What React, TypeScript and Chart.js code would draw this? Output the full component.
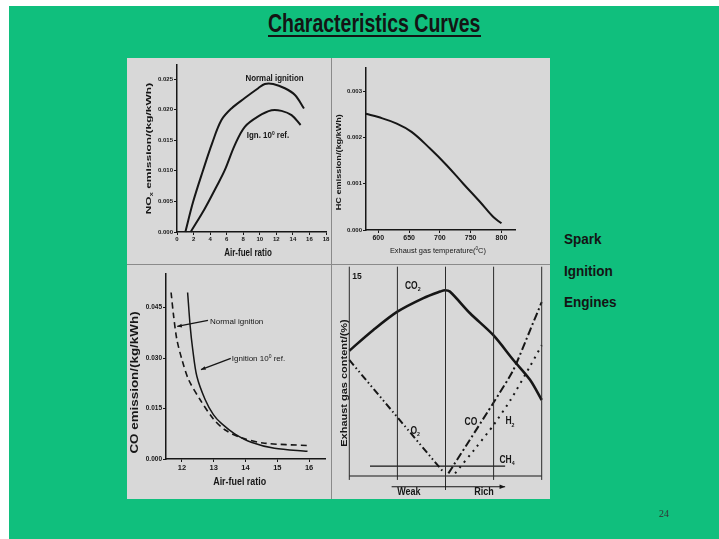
import React, { useEffect, useRef } from "react";
import { Chart, registerables } from "chart.js";

Chart.register(...registerables);

const FONT = "'Liberation Sans', Arial, Helvetica, sans-serif";
const SERIF = "'Liberation Serif', 'Times New Roman', serif";
const INK = "#161616";

// ---------------- NOx emission vs air-fuel ratio ----------------
const noxXTicks = [0, 2, 4, 6, 8, 10, 12, 14, 16, 18];
const noxYTicks = [0, 0.005, 0.01, 0.015, 0.02, 0.025];
const noxYTickLabels = ["0.000", "0.005", "0.010", "0.015", "0.020", "0.025"];
const noxNormalAFR = [1.01, 1.94, 3.15, 4.24, 5.37, 6.58, 8.19, 9.81, 10.61, 11.62, 13.03, 14.25, 15.34];
const noxNormal = [0, 0.0049, 0.0101, 0.0145, 0.0183, 0.0202, 0.0219, 0.0235, 0.0242, 0.0242, 0.0235, 0.0224, 0.0202];
const noxIgnAFR = [1.65, 3.35, 4.76, 5.77, 6.98, 8.19, 9.81, 11.42, 12.63, 13.84, 14.93];
const noxIgn = [0, 0.0038, 0.0074, 0.0101, 0.0142, 0.0172, 0.0189, 0.0199, 0.0198, 0.0191, 0.0175];

// ---------------- HC emission vs exhaust gas temperature ----------------
const hcXTicks = [600, 650, 700, 750, 800];
const hcYTicks = [0, 0.001, 0.002, 0.003];
const hcYTickLabels = ["0.000", "0.001", "0.002", "0.003"];
const hcTemp = [580, 600, 630, 654, 684, 711, 738, 765, 786, 800];
const hcEmission = [0.00251, 0.00244, 0.0023, 0.00212, 0.00176, 0.0014, 0.001, 0.00061, 0.00029, 0.000144];

// ---------------- CO emission vs air-fuel ratio ----------------
const coXTicks = [12, 13, 14, 15, 16];
const coYTicks = [0, 0.015, 0.03, 0.045];
const coYTickLabels = ["0.000", "0.015", "0.030", "0.045"];
const coNormalAFR = [11.66, 11.74, 11.84, 12.0, 12.21, 12.57, 12.99, 13.35, 13.87, 14.6, 15.95];
const coNormal = [0.0495, 0.0425, 0.0356, 0.0296, 0.0236, 0.0177, 0.0119, 0.0087, 0.0063, 0.0047, 0.004];
const coIgnAFR = [12.18, 12.26, 12.34, 12.47, 12.73, 12.99, 13.25, 13.66, 14.18, 14.91, 15.95];
const coIgn = [0.0495, 0.0395, 0.0326, 0.0246, 0.0177, 0.0132, 0.0105, 0.0075, 0.005, 0.0032, 0.0023];

// ---------------- Exhaust gas content (schematic, weak -> rich) ----------------
const mixCO2X = [0, 0.5, 1.0, 1.54, 1.89, 1.99, 2.09, 2.51, 2.99, 3.41, 3.76, 4.0];
const mixCO2 = [9.58, 11.16, 12.56, 13.6, 14.1, 14.2, 14.1, 12.44, 10.78, 8.87, 7.34, 5.81];
const mixO2X = [0, 1.95];
const mixO2 = [8.87, 0.33];
const mixCOX = [2.06, 2.99, 3.41, 3.76, 4.0];
const mixCO = [0.2, 5.56, 8.1, 11.16, 13.3];
const mixH2X = [2.2, 2.64, 3.0, 3.35, 3.76, 4.0];
const mixH2 = [0.2, 2.2, 3.9, 5.8, 8.4, 10.0];
const mixCH4X = [0.43, 3.24];
const mixCH4 = [0.76, 0.76];
const mixGridX = [0, 1, 2, 3, 4];
const mixGridBottom = [-0.3, -0.3, -1.07, -0.3, -0.3];
const mixGridTop = 16;
const mixBaseX = [0, 4];
const mixBaseY = [0, 0];
const mixArrowX = [0.88, 3.24];
const mixArrowY = -0.82;

// ---------------- text ----------------
const slideTitle = "Characteristics Curves";
const sideText = ["Spark", "Ignition", "Engines"];
const pageNumber = "24";

type Seg = [string, number?];
interface Label {
  segs: Seg[];
  x: number;
  y: number;
  size: number;
  sx?: number;
  rot?: number;
  weight?: string;
  align?: "left" | "center" | "right";
}
interface Arrow {
  x1: number;
  y1: number;
  x2: number;
  y2: number;
  head: number;
  width: number;
}

const pts = (xs: number[], ys: number[]) => xs.map((x, i) => ({ x, y: ys[i] }));

function drawRich(ctx: CanvasRenderingContext2D, l: Label, px: number, py: number) {
  ctx.save();
  ctx.translate(px, py);
  if (l.rot) ctx.rotate(l.rot);
  ctx.scale(l.sx ?? 1, 1);
  const w = l.weight ?? "bold";
  const sizeOf = (k?: number) => (k ? l.size * 0.62 : l.size);
  let total = 0;
  const widths = l.segs.map(([t, k]) => {
    ctx.font = `${w} ${sizeOf(k)}px ${FONT}`;
    const m = ctx.measureText(t).width;
    total += m;
    return m;
  });
  let cx = l.align === "left" ? 0 : l.align === "right" ? -total : -total / 2;
  ctx.fillStyle = INK;
  ctx.textBaseline = "alphabetic";
  ctx.textAlign = "left";
  l.segs.forEach(([t, k], i) => {
    ctx.font = `${w} ${sizeOf(k)}px ${FONT}`;
    const dy = k === -1 ? l.size * 0.25 : k === 1 ? -l.size * 0.38 : 0;
    ctx.fillText(t, cx, dy + l.size * 0.36);
    cx += widths[i];
  });
  ctx.restore();
}

const annotate = (labels: Label[], arrows: Arrow[] = []) => ({
  id: "annotate",
  afterDatasetsDraw(chart: any) {
    const { ctx, scales } = chart;
    const xs = scales.x;
    const ys = scales.y;
    arrows.forEach((a) => {
      const x1 = xs.getPixelForValue(a.x1);
      const y1 = ys.getPixelForValue(a.y1);
      const x2 = xs.getPixelForValue(a.x2);
      const y2 = ys.getPixelForValue(a.y2);
      ctx.save();
      ctx.strokeStyle = INK;
      ctx.fillStyle = INK;
      ctx.lineWidth = a.width;
      ctx.beginPath();
      ctx.moveTo(x1, y1);
      ctx.lineTo(x2, y2);
      ctx.stroke();
      const ang = Math.atan2(y2 - y1, x2 - x1);
      ctx.beginPath();
      ctx.moveTo(x2, y2);
      ctx.lineTo(x2 - a.head * Math.cos(ang - 0.38), y2 - a.head * Math.sin(ang - 0.38));
      ctx.lineTo(x2 - a.head * Math.cos(ang + 0.38), y2 - a.head * Math.sin(ang + 0.38));
      ctx.closePath();
      ctx.fill();
      ctx.restore();
    });
    labels.forEach((l) => drawRich(ctx, l, xs.getPixelForValue(l.x), ys.getPixelForValue(l.y)));
  },
});

function axis(
  min: number,
  max: number,
  ticks: number[],
  labels: string[] | null,
  fontSize: number,
  fit: number,
  horizontal: boolean
) {
  return {
    type: "linear",
    min,
    max,
    afterBuildTicks: (ax: any) => {
      ax.ticks = ticks.map((v) => ({ value: v }));
    },
    afterFit: (ax: any) => {
      if (horizontal) ax.height = fit;
      else ax.width = fit;
    },
    grid: { display: true, drawOnChartArea: false, drawTicks: true, tickLength: 3, color: INK, lineWidth: 1 },
    border: { display: true, color: INK, width: 1.5 },
    ticks: {
      color: INK,
      padding: 1,
      autoSkip: false,
      maxRotation: 0,
      minRotation: 0,
      font: { family: FONT, size: fontSize, weight: "bold" },
      callback: (v: number, i: number) => (labels ? labels[i] : String(v)),
    },
  };
}

const baseOptions = (padding: any, scales: any) => ({
  responsive: false,
  animation: false,
  devicePixelRatio: 1,
  events: [],
  layout: { padding },
  plugins: { legend: { display: false }, tooltip: { enabled: false }, title: { display: false } },
  scales,
});

const curve = (data: any[], extra: any = {}) => ({
  type: "line",
  data,
  borderColor: INK,
  borderWidth: 1.8,
  pointRadius: 0,
  fill: false,
  tension: 0,
  clip: false,
  ...extra,
});

const smooth = { tension: 0.35 };

// ---------------- chart configs ----------------
const noxConfig = () => ({
  type: "line",
  data: {
    datasets: [
      curve(pts(noxNormalAFR, noxNormal), { ...smooth, borderWidth: 2 }),
      curve(pts(noxIgnAFR, noxIgn), { ...smooth, borderWidth: 2 }),
    ],
  },
  options: baseOptions(
    { top: 7, right: 6, left: 0, bottom: 0 },
    {
      x: axis(0, 18, noxXTicks, null, 6, 33, true),
      y: axis(0, 0.0273, noxYTicks, noxYTickLabels, 6, 50, false),
    }
  ),
  plugins: [
    annotate([
      { segs: [["Normal ignition"]], x: 11.78, y: 0.02516, size: 9, sx: 0.88 },
      { segs: [["Ign. 10"], ["0", 1], [" ref."]], x: 10.99, y: 0.01585, size: 9, sx: 0.88 },
      { segs: [["NO"], ["x", -1], [" emission/(kg/kWh)"]], x: -3.5, y: 0.01364, size: 8, sx: 1.5, rot: -Math.PI / 2 },
      { segs: [["Air-fuel ratio"]], x: 8.58, y: -0.00327, size: 10, sx: 0.8 },
    ]),
  ],
});

const hcConfig = () => ({
  type: "line",
  data: { datasets: [curve(pts(hcTemp, hcEmission), { tension: 0.4, borderWidth: 2 })] },
  options: baseOptions(
    { top: 10, right: 35, left: 0, bottom: 0 },
    {
      x: axis(580, 822, hcXTicks, null, 7, 35, true),
      y: axis(0, 0.0035, hcYTicks, hcYTickLabels, 6, 34, false),
    }
  ),
  plugins: [
    annotate([
      { segs: [["HC emission/(kg/kWh)"]], x: 534.6, y: 0.001465, size: 7, sx: 1.3, rot: -Math.PI / 2 },
      { segs: [["Exhaust gas temperature("], ["0", 1], ["C)"]], x: 696.8, y: -0.000431, size: 8, sx: 0.93, weight: "normal" },
    ]),
  ],
});

const coConfig = () => ({
  type: "line",
  data: {
    datasets: [
      curve(pts(coNormalAFR, coNormal), { tension: 0.3, borderWidth: 1.6, borderDash: [6, 4] }),
      curve(pts(coIgnAFR, coIgn), { tension: 0.3, borderWidth: 1.5 }),
    ],
  },
  options: baseOptions(
    { top: 9, right: 7, left: 0, bottom: 0 },
    {
      x: axis(11.5, 16.5, coXTicks, null, 7.5, 40, true),
      y: axis(0, 0.055, coYTicks, coYTickLabels, 6.5, 39, false),
    }
  ),
  plugins: [
    annotate(
      [
        { segs: [["Normal ignition"]], x: 12.882, y: 0.0409, size: 8, sx: 1, weight: "normal", align: "left" },
        { segs: [["Ignition 10"], ["0", 1], [" ref."]], x: 13.568, y: 0.0299, size: 8, sx: 1, weight: "normal", align: "left" },
        { segs: [["CO emission/(kg/kWh)"]], x: 10.513, y: 0.02274, size: 10, sx: 1.34, rot: -Math.PI / 2 },
        { segs: [["Air-fuel ratio"]], x: 13.817, y: -0.00668, size: 11, sx: 0.81 },
      ],
      [
        { x1: 12.82, y1: 0.0412, x2: 11.853, y2: 0.0394, head: 5, width: 1.3 },
        { x1: 13.537, y1: 0.0299, x2: 12.6, y2: 0.0266, head: 5, width: 1.3 },
      ]
    ),
  ],
});

const mixConfig = () => {
  const grid = mixGridX.map((x, i) =>
    curve(
      [
        { x, y: mixGridBottom[i] },
        { x, y: mixGridTop },
      ],
      { borderWidth: 1, borderColor: "#2a2a2a" }
    )
  );
  return {
    type: "line",
    data: {
      datasets: [
        ...grid,
        curve(pts(mixBaseX, mixBaseY), { borderWidth: 1.2 }),
        curve(pts(mixCH4X, mixCH4), { borderWidth: 1.2 }),
        curve(pts(mixCO2X, mixCO2), { tension: 0.3, borderWidth: 2.6 }),
        curve(pts(mixO2X, mixO2), { borderWidth: 2, borderDash: [7, 3, 1.5, 3, 1.5, 3] }),
        curve(pts(mixCOX, mixCO), { tension: 0.2, borderWidth: 2, borderDash: [8, 3, 2, 3] }),
        curve(pts(mixH2X, mixH2), { tension: 0.2, borderWidth: 2, borderDash: [2, 5] }),
      ],
    },
    options: baseOptions(
      { top: 1.7, right: 8.3, left: 17.3, bottom: 23 },
      {
        x: { type: "linear", min: 0, max: 4, display: false },
        y: { type: "linear", min: 0, max: 16, display: false },
      }
    ),
    plugins: [
      annotate(
        [
          { segs: [["15"]], x: 0.16, y: 15.3, size: 8.5 },
          { segs: [["CO"], ["2", -1]], x: 1.32, y: 14.6, size: 10, sx: 0.85 },
          { segs: [["O"], ["2", -1]], x: 1.37, y: 3.52, size: 10, sx: 0.85 },
          { segs: [["CO"]], x: 2.53, y: 4.15, size: 10, sx: 0.85 },
          { segs: [["H"], ["2", -1]], x: 3.34, y: 4.23, size: 10, sx: 0.85 },
          { segs: [["CH"], ["4", -1]], x: 3.28, y: 1.28, size: 10, sx: 0.85 },
          { segs: [["Weak"]], x: 1.24, y: -1.2, size: 10, sx: 0.9 },
          { segs: [["Rich"]], x: 2.8, y: -1.2, size: 10, sx: 0.9 },
          { segs: [["Exhaust gas content/(%)"]], x: -0.125, y: 7.11, size: 9, sx: 1.22, rot: -Math.PI / 2 },
        ],
        [{ x1: mixArrowX[0], y1: mixArrowY, x2: mixArrowX[1], y2: mixArrowY, head: 6, width: 1.2 }]
      ),
    ],
  };
};

function ChartCanvas(props: { left: number; top: number; width: number; height: number; make: () => any }) {
  const ref = useRef<HTMLCanvasElement>(null);
  useEffect(() => {
    const chart = new Chart(ref.current as HTMLCanvasElement, props.make() as any);
    return () => chart.destroy();
  }, []);
  return (
    <canvas
      ref={ref}
      width={props.width}
      height={props.height}
      style={{ position: "absolute", left: props.left, top: props.top, width: props.width, height: props.height }}
    />
  );
}

function SlideText(props: {
  text: string;
  left: number;
  baseline: number;
  size: number;
  sx?: number;
  weight?: string;
  family?: string;
  color?: string;
}) {
  const family = props.family ?? FONT;
  const k = family === SERIF ? 0.8375 : 0.8465;
  return (
    <div
      style={{
        position: "absolute",
        left: props.left,
        top: props.baseline - k * props.size,
        fontFamily: family,
        fontSize: props.size,
        lineHeight: `${props.size}px`,
        fontWeight: (props.weight ?? "bold") as any,
        color: props.color ?? "#141414",
        whiteSpace: "nowrap",
        transform: `scaleX(${props.sx ?? 1})`,
        transformOrigin: "0 0",
      }}
    >
      {props.text}
    </div>
  );
}

export default function App() {
  return (
    <div
      style={{
        position: "absolute",
        left: 0,
        top: 0,
        width: 719,
        height: 539,
        background: "#ffffff",
        overflow: "hidden",
      }}
    >
      <div style={{ position: "absolute", left: 9, top: 6, width: 710, height: 533, background: "#10bf7d" }} />
      <SlideText text={slideTitle} left={268} baseline={31.7} size={25} sx={0.78} />
      <div style={{ position: "absolute", left: 268, top: 35, width: 213, height: 2, background: "#141414" }} />

      <div style={{ position: "absolute", left: 127, top: 58, width: 423, height: 441, background: "#d8d8d8" }} />
      <div style={{ position: "absolute", left: 331, top: 58, width: 1, height: 441, background: "#8a8a8a" }} />
      <div style={{ position: "absolute", left: 127, top: 264, width: 423, height: 1, background: "#8a8a8a" }} />

      <ChartCanvas left={127} top={58} width={205} height={207} make={noxConfig} />
      <ChartCanvas left={332} top={58} width={218} height={207} make={hcConfig} />
      <ChartCanvas left={127} top={265} width={205} height={234} make={coConfig} />
      <ChartCanvas left={332} top={265} width={218} height={234} make={mixConfig} />

      <SlideText text={sideText[0]} left={564} baseline={244} size={15} sx={0.9} />
      <SlideText text={sideText[1]} left={564} baseline={275.5} size={15} sx={0.9} />
      <SlideText text={sideText[2]} left={564} baseline={307} size={15} sx={0.9} />
      <SlideText text={pageNumber} left={659} baseline={517} size={10} weight="normal" family={SERIF} color="#333" />
    </div>
  );
}
